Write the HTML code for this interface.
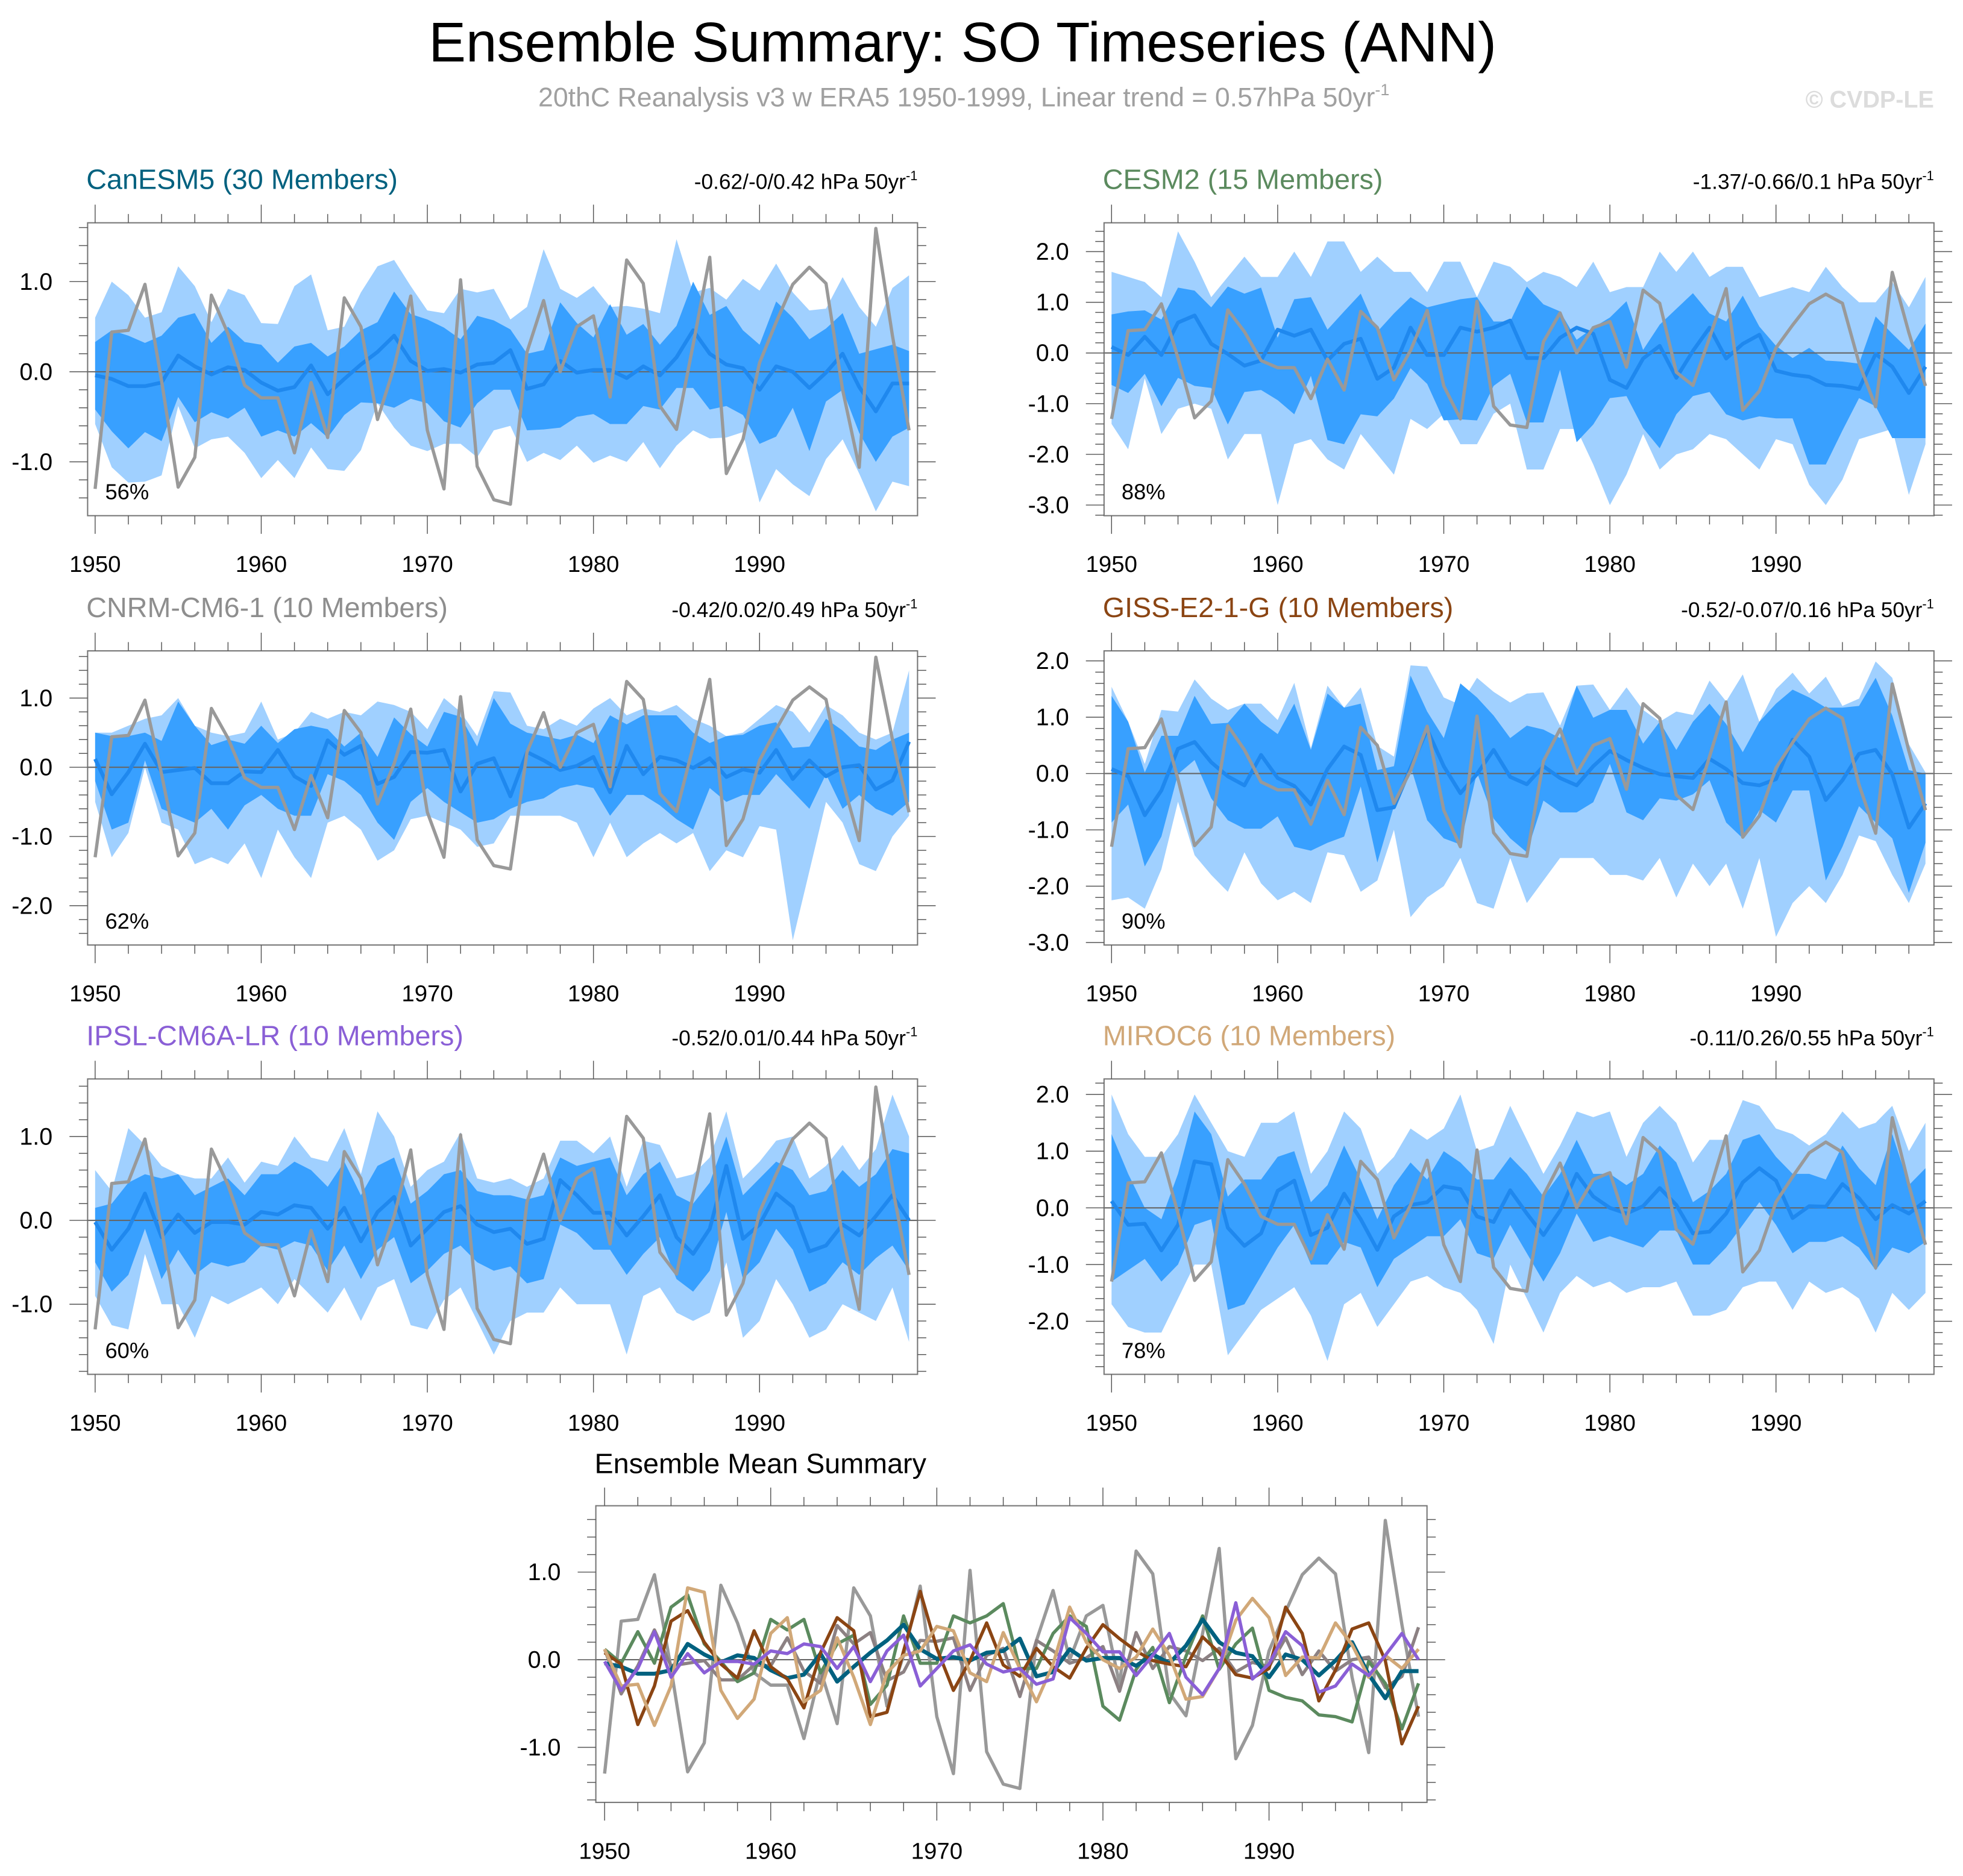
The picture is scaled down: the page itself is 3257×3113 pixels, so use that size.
<!DOCTYPE html>
<html><head><meta charset="utf-8"><style>
html,body{margin:0;padding:0;background:#fff;}
svg{display:block;font-family:"Liberation Sans",Arial,sans-serif;}
</style></head><body>
<svg id="chart" width="3257" height="3113" viewBox="0 0 1568.2 1498.8" preserveAspectRatio="none" xmlns="http://www.w3.org/2000/svg">
<text x="769" y="49" font-size="44.5" text-anchor="middle" fill="#000">Ensemble Summary: SO Timeseries (ANN)</text>
<text x="770" y="85" font-size="21.5" text-anchor="middle" fill="#a0a0a0">20thC Reanalysis v3 w ERA5 1950-1999, Linear trend = 0.57hPa 50yr<tspan font-size="13" dy="-9">-1</tspan></text>
<text x="1545" y="86" font-size="19" font-weight="bold" text-anchor="end" fill="#dcdcdc">© CVDP-LE</text>
<g id="plots"></g>
</svg>
<script>
const years = [];
for (let y = 1950; y <= 1999; y++) years.push(y);
const obs = [-1.30,0.44,0.46,0.97,-0.10,-1.28,-0.95,0.85,0.42,-0.15, -0.29,-0.29,-0.90,-0.12,-0.73,0.82,0.50,-0.53,0.05,0.84, -0.65,-1.30,1.02,-1.05,-1.42,-1.47,0.22,0.79,0.00,0.50, 0.62,-0.28,1.24,0.98,-0.38,-0.64,0.30,1.27,-1.13,-0.75, 0.10,0.55,0.97,1.16,0.98,-0.20,-1.06,1.59,0.40,-0.65];

const canMean = [-0.04,-0.08,-0.16,-0.16,-0.12,0.18,0.06,-0.03,0.05,0.02, -0.12,-0.21,-0.17,0.07,-0.25,-0.08,0.08,0.22,0.40,0.12, 0.01,0.03,-0.01,0.08,0.10,0.24,-0.19,-0.14,0.12,-0.01, 0.02,0.02,-0.07,0.06,-0.04,0.16,0.46,0.20,0.08,0.04, -0.20,0.06,0.00,-0.18,-0.01,0.20,-0.17,-0.44,-0.13,-0.13];
const canDHi = [0.33,0.46,0.40,0.32,0.40,0.60,0.65,0.32,0.50,0.33, 0.30,0.10,0.28,0.32,0.17,0.28,0.46,0.55,0.89,0.64, 0.58,0.49,0.36,0.62,0.57,0.47,0.20,0.24,0.77,0.54, 0.38,0.75,0.41,0.53,0.30,0.51,1.00,0.63,0.73,0.46, 0.30,0.78,0.60,0.36,0.48,0.65,0.20,0.25,0.30,0.23];
const canDLo = [-0.42,-0.66,-0.85,-0.67,-0.77,-0.28,-0.56,-0.45,-0.52,-0.40, -0.72,-0.65,-0.72,-0.57,-0.73,-0.48,-0.34,-0.35,-0.40,-0.30, -0.35,-0.55,-0.62,-0.35,-0.20,-0.20,-0.65,-0.64,-0.62,-0.50, -0.47,-0.58,-0.58,-0.38,-0.42,-0.18,-0.18,-0.42,-0.38,-0.48, -0.80,-0.72,-0.40,-0.88,-0.33,-0.20,-0.68,-1.00,-0.72,-0.62];
const canLHi = [0.60,1.00,0.85,0.60,0.66,1.17,0.95,0.55,0.92,0.85, 0.54,0.53,0.95,1.08,0.46,0.50,0.88,1.17,1.24,0.95, 0.68,0.65,0.92,0.88,0.92,0.58,0.72,1.36,0.92,0.82, 0.95,0.72,0.73,0.70,0.65,1.47,0.88,0.93,0.80,1.03, 0.90,1.20,0.88,0.68,0.70,1.05,0.72,0.50,0.93,1.07];
const canLLo = [-0.58,-1.06,-1.23,-1.22,-1.15,-0.38,-0.85,-0.75,-0.72,-0.90, -1.18,-0.98,-1.18,-0.84,-1.08,-1.10,-0.87,-0.35,-0.62,-0.82, -0.88,-0.80,-0.80,-0.95,-0.65,-0.60,-1.00,-0.90,-0.98,-0.82, -1.01,-0.93,-1.00,-0.78,-1.07,-0.82,-0.65,-0.74,-0.73,-0.67, -1.45,-1.08,-1.25,-1.38,-0.97,-0.75,-1.13,-1.55,-1.22,-1.27];

const cesMean = [0.12,-0.04,0.32,-0.04,0.60,0.74,0.18,-0.02,-0.25,-0.15, 0.46,0.34,0.46,-0.15,0.18,0.28,-0.51,-0.29,0.50,-0.04, -0.04,0.50,0.42,0.50,0.64,-0.10,-0.10,0.30,0.50,0.38, -0.53,-0.69,-0.11,0.14,-0.49,0.04,0.50,-0.11,0.18,0.36, -0.35,-0.43,-0.47,-0.63,-0.65,-0.71,-0.02,-0.27,-0.79,-0.27];
const cesDHi = [0.76,0.82,0.84,0.66,1.29,1.23,0.90,1.31,1.17,1.29, 0.30,1.06,1.10,0.46,0.82,1.17,0.42,0.78,1.10,0.90, 0.98,1.06,1.10,0.62,0.62,1.31,0.96,0.82,0.26,0.50, 0.70,1.02,0.06,0.56,0.87,1.18,0.78,0.62,1.13,0.52, 0.14,-0.10,0.10,-0.15,-0.17,-0.21,0.72,0.38,0.06,0.58];
const cesDLo = [-0.63,-0.79,-0.41,-1.05,-0.49,-0.65,-0.69,-1.41,-0.77,-0.73, -0.93,-1.21,-0.45,-1.72,-1.80,-1.21,-1.25,-0.90,-0.30,-0.61, -1.33,-1.31,-1.33,-0.65,-0.41,-1.37,-1.37,-0.33,-1.76,-1.41, -0.89,-0.85,-1.48,-1.88,-1.21,-0.85,-0.77,-1.21,-1.33,-1.25, -1.29,-1.29,-2.20,-2.20,-1.53,-0.89,-1.05,-1.68,-1.68,-1.68];
const cesLHi = [1.6,1.5,1.4,1.1,2.4,1.8,1.1,1.5,1.9,1.5, 1.5,2.0,1.5,2.2,2.2,1.6,1.9,1.6,1.6,1.2, 1.8,1.8,1.1,1.8,1.7,1.4,1.6,1.5,1.3,1.8, 1.2,1.3,1.3,2.0,1.6,2.0,1.5,1.7,1.7,1.1, 1.2,1.3,1.2,1.7,1.3,1.0,1.0,1.4,0.9,1.5];
const cesLLo = [-1.4,-1.9,-0.5,-1.6,-1.1,-1.0,-1.1,-2.1,-1.6,-1.6, -3.0,-1.8,-1.7,-2.1,-2.3,-1.6,-2.0,-2.4,-1.3,-1.5, -1.2,-1.8,-1.8,-1.2,-1.0,-2.3,-2.3,-1.5,-1.5,-2.2, -3.0,-2.4,-1.6,-2.3,-2.0,-1.9,-1.6,-1.7,-2.0,-2.3, -1.7,-1.8,-2.6,-3.0,-2.5,-1.7,-1.6,-1.5,-2.8,-1.8];

const cnrMean = [0.12,-0.39,-0.07,0.34,-0.07,-0.04,-0.01,-0.23,-0.23,-0.06, -0.07,0.25,-0.13,-0.27,0.39,0.18,0.31,-0.24,-0.14,0.22, 0.21,0.25,-0.35,0.05,0.13,-0.42,0.22,0.10,-0.04,0.02, 0.15,-0.36,0.31,-0.10,0.15,0.10,-0.01,0.13,-0.14,-0.03, -0.08,0.25,-0.17,0.10,-0.13,0.00,0.03,-0.32,-0.19,0.37];
const cnrDHi = [0.5,0.45,0.45,0.5,0.38,0.95,0.6,0.32,0.4,0.34, 0.6,0.35,0.55,0.6,0.55,0.3,0.5,0.15,0.72,0.48, 0.3,0.8,0.73,0.3,1.0,0.63,0.5,0.45,0.4,0.47, 0.35,0.75,0.62,0.75,0.75,0.75,0.5,0.35,0.45,0.47, 0.6,0.65,0.28,0.3,0.7,0.53,0.3,0.25,0.4,0.5];
const cnrDLo = [-0.2,-0.9,-0.8,0.1,-0.6,-0.7,-0.8,-0.6,-0.9,-0.55, -0.4,-0.6,-0.7,-0.7,-0.1,-0.2,-0.4,-0.8,-1.05,-0.5, -0.3,-0.5,-0.65,-0.8,-0.75,-0.6,-0.5,-0.45,-0.3,-0.25, -0.3,-0.7,-0.4,-0.4,-0.55,-0.75,-0.9,-0.3,-0.5,-0.4, -0.4,-0.1,-0.35,-0.6,-0.1,-0.6,-0.4,-0.6,-0.7,-0.5];
const cnrLHi = [0.5,0.5,0.6,0.7,0.75,1.0,0.6,0.5,0.45,0.5, 0.95,0.4,0.5,0.8,0.7,0.8,0.75,0.95,0.9,0.8, 0.55,1.0,0.8,0.45,1.1,1.08,0.6,0.55,0.7,0.6, 0.85,1.0,0.75,0.85,0.8,0.9,0.7,0.6,0.45,0.5, 0.7,0.9,0.8,0.5,0.9,0.75,0.5,0.4,0.5,1.4];
const cnrLLo = [-0.5,-1.3,-0.95,0.0,-0.8,-0.9,-1.4,-1.3,-1.4,-1.1, -1.6,-0.9,-1.3,-1.6,-0.8,-0.7,-0.9,-1.35,-1.2,-0.75, -0.7,-0.8,-0.9,-1.15,-1.1,-0.7,-0.7,-0.7,-0.7,-0.8, -1.3,-0.8,-1.3,-1.1,-0.95,-1.1,-0.95,-1.5,-1.2,-1.3, -0.85,-0.9,-2.5,-1.5,-0.5,-0.8,-1.4,-1.5,-1.0,-0.7];

const gisMean = [0.08,-0.05,-0.74,-0.30,0.44,0.56,0.20,-0.05,-0.21,0.33, -0.08,-0.22,-0.55,0.08,0.48,0.33,-0.65,-0.60,0.10,0.78, 0.13,-0.35,-0.01,0.42,-0.06,-0.19,0.13,-0.08,-0.21,0.13, 0.40,0.24,0.10,-0.01,-0.05,-0.08,0.26,0.08,-0.17,-0.21, -0.10,0.60,0.30,-0.47,-0.12,0.35,0.42,-0.01,-0.96,-0.53];
const gisDHi = [1.38,0.92,0.02,0.67,0.67,1.38,0.88,0.90,1.24,0.92, 0.70,1.24,0.42,1.42,1.17,1.24,0.06,0.13,1.74,1.10, 0.63,1.60,1.35,1.03,0.63,0.85,0.78,0.63,1.56,0.99, 1.13,1.13,0.53,0.92,0.42,0.92,1.24,0.88,0.38,0.92, 1.24,1.49,1.35,1.17,1.17,1.20,1.70,1.03,0.06,0.00];
const gisDLo = [-0.87,-0.55,-1.65,-1.12,-0.01,0.24,-0.44,-0.83,-0.98,-0.98, -0.76,-1.30,-1.37,-1.23,-1.12,-0.23,-1.58,-0.58,0.13,-0.83, -1.15,-1.26,0.02,-0.80,-1.15,-1.40,-0.48,-0.69,-0.69,-0.51, 0.17,-0.69,-0.83,-0.44,-0.48,-0.37,-0.12,-0.87,-1.15,-0.65, -0.87,-0.30,-0.30,-1.90,-1.30,-0.58,-0.87,-1.15,-2.12,-1.23];
const gisLHi = [1.54,0.92,0.17,1.13,1.10,1.67,1.33,1.13,1.24,1.24, 0.95,1.61,0.45,1.56,1.17,1.53,0.49,0.30,1.92,1.90, 1.35,1.22,1.70,1.45,1.26,1.42,1.44,0.85,1.56,1.58, 1.13,1.53,1.13,0.92,1.10,1.04,1.65,1.28,1.76,0.92, 1.50,1.79,1.42,1.72,1.20,1.33,1.99,1.70,0.52,0.02];
const gisLLo = [-2.25,-2.2,-2.4,-1.7,-0.5,-1.45,-1.8,-2.1,-1.4,-1.95, -2.25,-2.1,-2.3,-1.4,-1.45,-2.1,-1.9,-1.0,-2.55,-2.2, -2.0,-1.5,-2.3,-2.4,-1.5,-2.3,-1.9,-1.5,-1.5,-1.5, -1.8,-1.8,-1.9,-1.5,-2.2,-1.6,-2.0,-1.6,-2.4,-1.5, -2.9,-2.3,-2.0,-2.3,-1.8,-1.1,-1.2,-1.8,-2.3,-1.6];

const ipsMean = [-0.02,-0.35,-0.10,0.32,-0.20,0.07,-0.15,-0.02,-0.02,-0.05, 0.10,0.07,0.18,0.15,-0.10,0.15,-0.25,0.10,0.28,-0.30, -0.10,0.10,0.17,-0.05,-0.14,-0.10,-0.28,-0.22,0.48,0.30, 0.09,0.09,-0.18,0.05,0.30,-0.20,-0.40,-0.10,0.65,-0.22, -0.05,0.32,0.16,-0.37,-0.30,-0.05,-0.18,0.05,0.30,0.00];
const ipsDHi = [0.15,0.2,0.45,0.55,0.5,0.55,0.3,0.4,0.5,0.3, 0.55,0.55,0.7,0.6,0.4,0.7,0.3,0.65,0.75,0.2, 0.35,0.55,0.6,0.35,0.3,0.3,0.25,0.3,0.75,0.65, 0.7,0.75,0.3,0.55,0.7,0.3,0.2,0.45,1.0,0.3, 0.5,0.7,0.6,0.3,0.35,0.6,0.4,0.55,0.85,0.8];
const ipsDLo = [-0.5,-0.85,-0.65,-0.1,-0.7,-0.35,-0.65,-0.5,-0.55,-0.5, -0.3,-0.35,-0.25,-0.3,-0.6,-0.3,-0.7,-0.35,-0.2,-0.75, -0.6,-0.4,-0.3,-0.5,-0.6,-0.55,-0.75,-0.7,-0.05,-0.15, -0.35,-0.35,-0.65,-0.4,-0.2,-0.7,-0.85,-0.6,0.1,-0.7, -0.5,-0.1,-0.35,-0.85,-0.75,-0.5,-0.65,-0.45,-0.3,-0.6];
const ipsLHi = [0.6,0.35,1.1,0.9,0.65,0.55,0.5,0.5,0.75,0.45, 0.7,0.65,1.0,0.75,0.7,1.1,0.55,1.3,1.0,0.4, 0.6,0.7,1.05,0.5,0.45,0.5,0.4,0.5,0.95,0.95, 0.8,1.0,0.4,0.95,0.9,0.5,0.55,0.75,1.3,0.5, 0.7,0.95,1.0,0.5,0.65,0.9,0.6,0.85,1.5,1.0];
const ipsLLo = [-0.9,-1.25,-1.3,-0.4,-1.0,-1.0,-1.4,-0.9,-1.0,-0.9, -0.8,-1.0,-0.7,-0.9,-1.1,-0.8,-1.2,-0.8,-0.7,-1.25, -1.3,-0.95,-0.8,-1.2,-1.6,-1.2,-1.1,-1.1,-0.8,-1.0, -1.0,-1.0,-1.6,-0.9,-0.8,-1.1,-1.2,-1.1,-0.5,-1.4, -1.2,-0.7,-1.0,-1.4,-1.3,-1.0,-1.1,-1.2,-0.8,-1.45];

const mirMean = [0.12,-0.30,-0.28,-0.75,-0.30,0.82,0.77,-0.35,-0.67,-0.45, 0.30,0.48,-0.48,-0.35,0.25,-0.20,-0.74,-0.15,0.05,0.10, 0.38,0.33,-0.15,-0.25,0.31,-0.10,-0.48,-0.05,0.60,0.20, 0.00,-0.10,0.03,0.35,0.05,-0.45,-0.42,-0.10,0.45,0.70, 0.48,-0.18,0.03,0.02,0.42,0.17,-0.20,0.05,-0.10,0.12];
const mirDHi = [1.3,0.6,0.0,-0.2,0.6,1.7,1.3,0.2,0.5,0.5, 0.9,1.0,0.1,0.4,1.1,0.5,-0.2,0.4,0.8,0.5, 1.0,0.8,0.5,0.5,0.9,0.6,0.2,0.6,1.2,0.6, 0.6,0.4,0.6,1.1,0.8,0.1,0.3,0.6,1.2,1.3, 0.9,0.6,0.6,0.5,1.1,0.7,0.4,1.3,0.4,0.7];
const mirDLo = [-1.3,-1.1,-0.9,-1.3,-1.0,-0.3,-0.2,-1.8,-1.7,-1.2, -0.7,-0.3,-1.0,-1.0,-0.6,-0.7,-1.4,-0.9,-0.7,-0.5, -0.5,-0.2,-0.8,-0.9,-0.3,-0.8,-1.3,-0.8,-0.1,-0.6, -0.5,-0.6,-0.7,-0.4,-0.4,-1.0,-1.0,-0.7,-0.3,0.1, -0.3,-0.8,-0.6,-0.6,-0.5,-0.7,-1.1,-0.7,-0.8,-0.6];
const mirLHi = [2.0,1.3,0.9,0.9,1.3,2.0,1.5,1.0,0.9,1.5, 1.5,1.7,0.6,1.0,1.7,1.4,0.6,0.9,1.4,1.2, 1.4,2.0,1.0,1.1,1.8,1.2,0.6,1.1,1.7,1.6, 1.7,0.9,1.5,1.8,1.5,0.8,1.2,1.2,1.9,1.8, 1.4,1.3,1.1,1.3,1.7,1.4,1.5,1.8,1.0,1.5];
const mirLLo = [-1.7,-2.1,-2.2,-2.2,-1.6,-1.0,-1.0,-2.6,-2.2,-1.8, -1.6,-1.4,-1.9,-2.7,-1.7,-1.5,-2.1,-1.7,-1.3,-1.2, -1.4,-1.5,-1.8,-2.4,-1.0,-1.6,-2.2,-1.5,-1.2,-1.4, -1.3,-1.5,-1.4,-1.4,-1.3,-1.9,-1.9,-1.8,-1.4,-1.3, -1.3,-1.8,-1.3,-1.5,-1.4,-1.6,-2.2,-1.5,-1.8,-1.5];

const xTickLabels = [1950,1960,1970,1980,1990];

const NS = "http://www.w3.org/2000/svg";
const root = document.getElementById('plots');
function mk(tag, attrs, parent, text) {
  const e = document.createElementNS(NS, tag);
  for (const k in attrs) e.setAttribute(k, attrs[k]);
  if (text !== undefined) e.textContent = text;
  (parent || root).appendChild(e);
  return e;
}

const panels = [
  {key:'canesm5', title:'CanESM5 (30 Members)', color:'#00617f', trend:'-0.62/-0/0.42 hPa 50yr', pct:'56%', L:70, T:178, B:412, zero:297, unit:72, yt:[-1,0,1], mean:canMean, dHi:canDHi, dLo:canDLo, lHi:canLHi, lLo:canLLo},
  {key:'cesm2', title:'CESM2 (15 Members)', color:'#5b8a5e', trend:'-1.37/-0.66/0.1 hPa 50yr', pct:'88%', L:882, T:178, B:412, zero:282, unit:40.5, yt:[-3,-2,-1,0,1,2], mean:cesMean, dHi:cesDHi, dLo:cesDLo, lHi:cesLHi, lLo:cesLLo},
  {key:'cnrm', title:'CNRM-CM6-1 (10 Members)', color:'#8e8e8e', trend:'-0.42/0.02/0.49 hPa 50yr', pct:'62%', L:70, T:520, B:755, zero:613, unit:55.3, yt:[-2,-1,0,1], mean:cnrMean, dHi:cnrDHi, dLo:cnrDLo, lHi:cnrLHi, lLo:cnrLLo},
  {key:'giss', title:'GISS-E2-1-G (10 Members)', color:'#8b4513', trend:'-0.52/-0.07/0.16 hPa 50yr', pct:'90%', L:882, T:520, B:755, zero:618, unit:45, yt:[-3,-2,-1,0,1,2], mean:gisMean, dHi:gisDHi, dLo:gisDLo, lHi:gisLHi, lLo:gisLLo},
  {key:'ipsl', title:'IPSL-CM6A-LR (10 Members)', color:'#8a5fd6', trend:'-0.52/0.01/0.44 hPa 50yr', pct:'60%', L:70, T:862, B:1098, zero:975, unit:67, yt:[-1,0,1], mean:ipsMean, dHi:ipsDHi, dLo:ipsDLo, lHi:ipsLHi, lLo:ipsLLo},
  {key:'miroc6', title:'MIROC6 (10 Members)', color:'#d1a878', trend:'-0.11/0.26/0.55 hPa 50yr', pct:'78%', L:882, T:862, B:1098, zero:965, unit:45.3, yt:[-2,-1,0,1,2], mean:mirMean, dHi:mirDHi, dLo:mirDLo, lHi:mirLHi, lLo:mirLLo}
];

function axes(g, L, R, T, B, xs, ys, zero, unit, yt, key) {
  const tc = '#555';
  for (let yr = 1950; yr <= 1998; yr += 2) {
    const major = (yr % 10 === 0);
    const x = xs(yr), len = major ? 14.5 : 7;
    const t1 = mk('line', {x1:x, x2:x, y1:T, y2:T-len, stroke:tc, 'stroke-width':0.7}, g);
    
    
    const t2 = mk('line', {x1:x, x2:x, y1:B, y2:B+len, stroke:tc, 'stroke-width':0.7}, g);
    
    
  }
  xTickLabels.forEach(v => {
    const t = mk('text', {x:xs(v), y:B+45, 'font-size':18.5, 'text-anchor':'middle', fill:'#000'}, g, String(v));
    
    
  });
  const vMax = (zero - T) / unit, vMin = (zero - B) / unit;
  for (let k = Math.ceil(vMin * 5 - 1e-6); k <= Math.floor(vMax * 5 + 1e-6); k++) {
    const v = k / 5, y = ys(v), major = (k % 5 === 0);
    const len = major ? 14.5 : 7;
    const a = mk('line', {x1:L, x2:L-len, y1:y, y2:y, stroke:tc, 'stroke-width':0.7}, g);
    
    
    const b = mk('line', {x1:R, x2:R+len, y1:y, y2:y, stroke:tc, 'stroke-width':0.7}, g);
    
    
  }
  yt.forEach(v => {
    const t = mk('text', {x:L-28, y:ys(v)+6.5, 'font-size':19, 'text-anchor':'end', fill:'#000'}, g, v.toFixed(1));
    
    
  });
}

function pathOf(xs, ys, arr) {
  return arr.map((v, i) => (i ? 'L' : 'M') + xs(years[i]).toFixed(2) + ',' + ys(v).toFixed(2)).join(' ');
}
function bandOf(xs, ys, hi, lo) {
  let d = hi.map((v, i) => (i ? 'L' : 'M') + xs(years[i]).toFixed(2) + ',' + ys(v).toFixed(2)).join(' ');
  for (let i = lo.length - 1; i >= 0; i--) d += ' L' + xs(years[i]).toFixed(2) + ',' + ys(lo[i]).toFixed(2);
  return d + ' Z';
}

panels.forEach(p => {
  const R = p.L + 663;
  const xs = yr => p.L + 6 + (yr - 1950) * 13.27;
  const ys = v => p.zero - v * p.unit;
  const g = mk('g', {});
  
  
  const tt = mk('text', {x:p.L - 1, y:p.T - 27, 'font-size':22.5, fill:p.color}, g, p.title);
  
  
  const tr = mk('text', {x:R, y:p.T - 27, 'font-size':17, 'text-anchor':'end', fill:'#000'}, g, p.trend);
  
  
  mk('tspan', {'font-size':10.5, dy:-7}, tr, '-1');
  const clipId = 'clip-' + p.key;
  const cp = mk('clipPath', {id:clipId}, g);
  mk('rect', {x:p.L, y:p.T, width:663, height:p.B - p.T}, cp);
  const plot = mk('g', {'clip-path':'url(#' + clipId + ')'}, g);
  const lb = mk('path', {d:bandOf(xs, ys, p.lHi, p.lLo), fill:'#a0d0ff'}, plot);
  
  
  const db = mk('path', {d:bandOf(xs, ys, p.dHi, p.dLo), fill:'#38a0ff'}, plot);
  
  
  const zl = mk('line', {x1:p.L, x2:R, y1:ys(0), y2:ys(0), stroke:'#666', 'stroke-width':1}, plot);
  
  
  const ml = mk('path', {d:pathOf(xs, ys, p.mean), fill:'none', stroke:'#1f88ee', 'stroke-width':3, 'stroke-linejoin':'round'}, plot);
  
  
  const ol = mk('path', {d:pathOf(xs, ys, obs), fill:'none', stroke:'#999', 'stroke-width':2.6, 'stroke-linejoin':'round'}, plot);
  
  
  const fr = mk('rect', {x:p.L, y:p.T, width:663, height:p.B - p.T, fill:'none', stroke:'#777', 'stroke-width':1}, g);
  
  
  const pc = mk('text', {x:p.L + 14, y:p.B - 13, 'font-size':17.5, fill:'#000'}, g, p.pct);
  
  
  axes(g, p.L, R, p.T, p.B, xs, ys, p.zero, p.unit, p.yt, p.key);
});

(function () {
  const L = 476, R = 1140, T = 1203, B = 1440, zero = 1326, unit = 70;
  const xs = yr => L + 7 + (yr - 1950) * 13.27;
  const ys = v => zero - v * unit;
  const g = mk('g', {});
  
  
  const tt = mk('text', {x:L - 1, y:T - 26, 'font-size':22.5, fill:'#000'}, g, 'Ensemble Mean Summary');
  
  
  const cp = mk('clipPath', {id:'clip-summary'}, g);
  mk('rect', {x:L, y:T, width:R - L, height:B - T}, cp);
  const plot = mk('g', {'clip-path':'url(#clip-summary)'}, g);
  const zl = mk('line', {x1:L, x2:R, y1:ys(0), y2:ys(0), stroke:'#666', 'stroke-width':1}, plot);
  
  
  const ol = mk('path', {d:pathOf(xs, ys, obs), fill:'none', stroke:'#999', 'stroke-width':2.6, 'stroke-linejoin':'round'}, plot);
  
  
  const lineColors = {canesm5:'#00617f', cesm2:'#5b8a5e', cnrm:'#8c8183', giss:'#8b4513', ipsl:'#8a5fd6', miroc6:'#d1a878'};
  const order = [2, 1, 0, 3, 5, 4];
  order.forEach(i => {
    const p = panels[i];
    const l = mk('path', {d:pathOf(xs, ys, p.mean), fill:'none', stroke:lineColors[p.key], 'stroke-width':p.key === 'canesm5' ? 3.2 : 2.6, 'stroke-linejoin':'round'}, plot);
    
    
  });
  const fr = mk('rect', {x:L, y:T, width:R - L, height:B - T, fill:'none', stroke:'#777', 'stroke-width':1}, g);
  
  
  axes(g, L, R, T, B, xs, ys, zero, unit, [-1, 0, 1], 'summary');
})();
</script>
</body></html>
